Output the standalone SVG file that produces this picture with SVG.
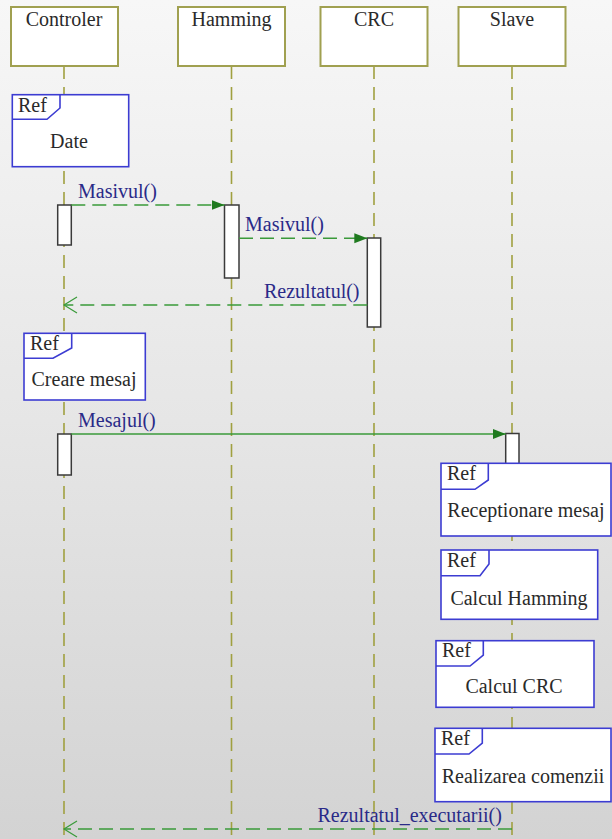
<svg xmlns="http://www.w3.org/2000/svg" width="612" height="839" viewBox="0 0 612 839">
  <defs>
    <linearGradient id="bg" x1="0" y1="0" x2="0" y2="1">
      <stop offset="0" stop-color="#f7f7f7"/>
      <stop offset="0.5" stop-color="#e6e6e6"/>
      <stop offset="1" stop-color="#d3d3d3"/>
    </linearGradient>
    <marker id="filled" markerWidth="14" markerHeight="12" refX="13" refY="6" orient="auto" markerUnits="userSpaceOnUse">
      <path d="M0,1 L13,6 L0,11 Z" fill="#1f7a1f"/>
    </marker>
    <marker id="open" markerWidth="16" markerHeight="18" refX="14" refY="9" orient="auto" markerUnits="userSpaceOnUse">
      <path d="M1,1 L14,9 L1,17" fill="none" stroke="#3a9a3a" stroke-width="1.2"/>
    </marker>
  </defs>
  <style>
    text { font-family: "Liberation Serif", "Times New Roman", serif; font-size: 20px; }
    .head { fill: #ffffff; stroke: #a0a050; stroke-width: 2; }
    .headtxt { fill: #2a2a2a; text-anchor: middle; }
    .life { stroke: #a0a040; stroke-width: 1.6; stroke-dasharray: 13 8; fill: none; }
    .act { fill: #ffffff; stroke: #3a3a3a; stroke-width: 1.5; }
    .ref { fill: #ffffff; stroke: #3c3cd2; stroke-width: 1.6; }
    .tab { fill: none; stroke: #3c3cd2; stroke-width: 1.6; }
    .reftxt { fill: #2a2a2a; }
    .msg { stroke: #3a9a3a; stroke-width: 1.6; fill: none; }
    .dash { stroke-dasharray: 14 7; }
    .lbl { fill: #2a2a88; }
  </style>

  <rect x="0" y="0" width="612" height="839" fill="url(#bg)"/>

  <g font-family="'Liberation Serif', 'Times New Roman', serif">
  <!-- lifelines -->
  <g id="lifelines">
    <line class="life" x1="64" y1="66" x2="64" y2="839"/>
    <line class="life" x1="231.5" y1="66" x2="231.5" y2="839"/>
    <line class="life" x1="374" y1="66" x2="374" y2="839"/>
    <line class="life" x1="512" y1="66" x2="512" y2="839"/>
  </g>

  <!-- participants -->
  <g id="controler">
    <rect class="head" x="11" y="7" width="107" height="59"/>
    <text class="headtxt" x="64" y="26">Controler</text>
  </g>
  <g id="hamming">
    <rect class="head" x="178" y="7" width="107" height="59"/>
    <text class="headtxt" x="231.5" y="26">Hamming</text>
  </g>
  <g id="crc">
    <rect class="head" x="320.5" y="7" width="107" height="59"/>
    <text class="headtxt" x="374" y="26">CRC</text>
  </g>
  <g id="slave">
    <rect class="head" x="458.5" y="7" width="107" height="59"/>
    <text class="headtxt" x="512" y="26">Slave</text>
  </g>

  <!-- activation bars -->
  <g id="activations">
    <rect class="act" x="57.7" y="205" width="13.6" height="40"/>
    <rect class="act" x="224.5" y="205" width="14.5" height="73"/>
    <rect class="act" x="367.3" y="238" width="13.4" height="89"/>
    <rect class="act" x="57.7" y="434" width="13.6" height="41"/>
    <rect class="act" x="505.7" y="433.5" width="13.3" height="40"/>
  </g>

  <!-- interaction references -->
  <g id="ref-date">
    <rect class="ref" x="12.3" y="94.7" width="116.4" height="72"/>
    <path class="tab" d="M12.3,119.3 H47 L60,108 V94.7"/>
    <text class="reftxt" x="18" y="112">Ref</text>
    <text class="reftxt" x="69" y="148" text-anchor="middle">Date</text>
  </g>
  <g id="ref-creare">
    <rect class="ref" x="24" y="333.3" width="121.3" height="66.7"/>
    <path class="tab" d="M24,358.3 H53 L71.7,348 V333.3"/>
    <text class="reftxt" x="30" y="350">Ref</text>
    <text class="reftxt" x="31.5" y="386">Creare mesaj</text>
  </g>
  <g id="ref-receptionare">
    <rect class="ref" x="441" y="463.3" width="170" height="72.7"/>
    <path class="tab" d="M441,489.3 H475 L488.3,480 V463.3"/>
    <text class="reftxt" x="447" y="480">Ref</text>
    <text class="reftxt" x="447.3" y="517">Receptionare mesaj</text>
  </g>
  <g id="ref-hamming">
    <rect class="ref" x="441" y="550" width="156.7" height="69.3"/>
    <path class="tab" d="M441,575.7 H480 L489,564 V550"/>
    <text class="reftxt" x="447" y="567">Ref</text>
    <text class="reftxt" x="519" y="605" text-anchor="middle">Calcul Hamming</text>
  </g>
  <g id="ref-crc">
    <rect class="ref" x="436" y="640.7" width="158" height="66.6"/>
    <path class="tab" d="M436,666 H470 L483.3,655 V640.7"/>
    <text class="reftxt" x="442" y="657">Ref</text>
    <text class="reftxt" x="514" y="693" text-anchor="middle">Calcul CRC</text>
  </g>
  <g id="ref-realizare">
    <rect class="ref" x="435" y="728.3" width="176" height="73.4"/>
    <path class="tab" d="M435,754 H469 L482.3,743 V728.3"/>
    <text class="reftxt" x="441" y="745">Ref</text>
    <text class="reftxt" x="441.7" y="783.3">Realizarea comenzii</text>
  </g>

  <!-- messages -->
  <g id="connectors">
    <line class="msg dash" x1="71.3" y1="205" x2="224.5" y2="205" marker-end="url(#filled)"/>
    <text class="lbl" x="78" y="198">Masivul()</text>

    <line class="msg dash" x1="239" y1="238.3" x2="367.3" y2="238.3" marker-end="url(#filled)"/>
    <text class="lbl" x="245" y="231">Masivul()</text>

    <line class="msg dash" x1="367.3" y1="305" x2="64" y2="305" marker-end="url(#open)"/>
    <text class="lbl" x="264" y="298">Rezultatul()</text>

    <line class="msg" x1="71.3" y1="434" x2="505.7" y2="434" marker-end="url(#filled)"/>
    <text class="lbl" x="78" y="427">Mesajul()</text>

    <line class="msg dash" x1="512" y1="829" x2="64" y2="829" marker-end="url(#open)"/>
    <text class="lbl" x="317.5" y="821.5">Rezultatul_executarii()</text>
  </g>
  </g>
</svg>
